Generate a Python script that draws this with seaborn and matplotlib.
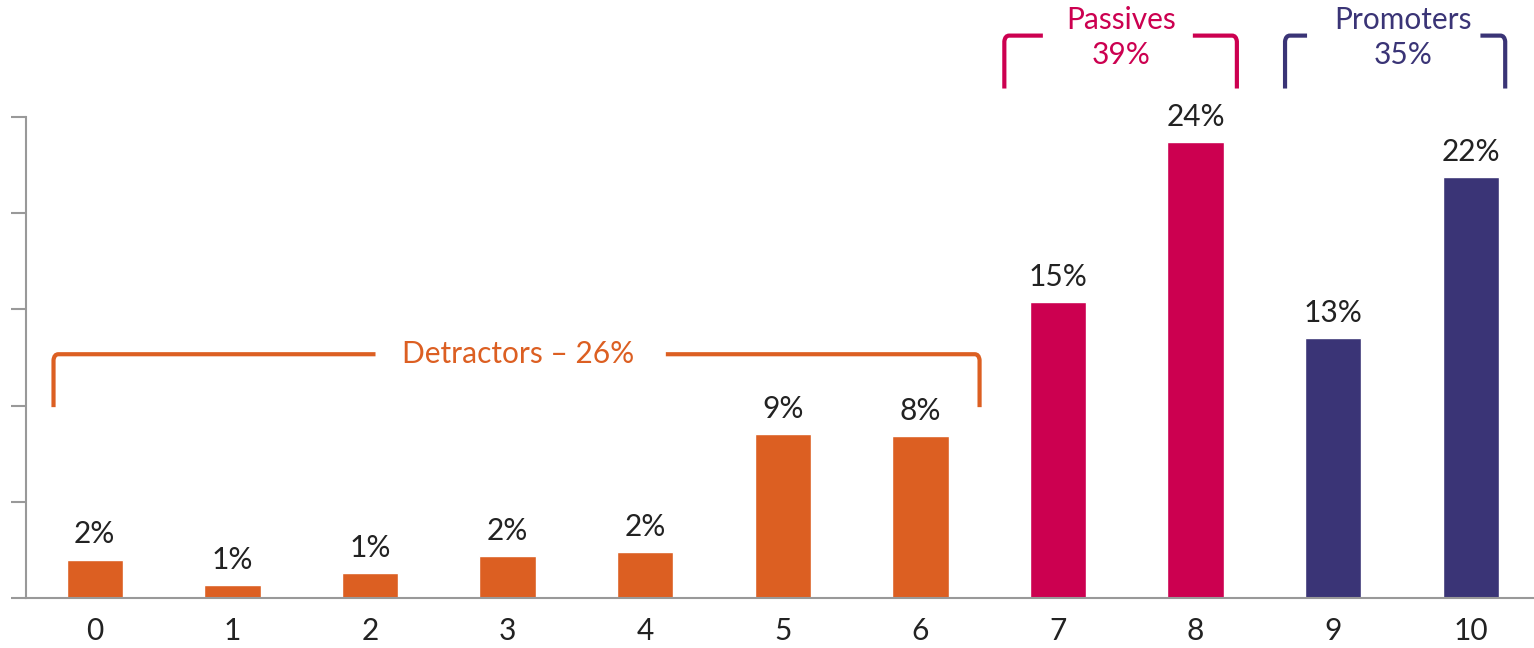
import matplotlib
matplotlib.use('Agg')
import matplotlib.pyplot as plt
import numpy as np
import pandas as pd
import seaborn as sns
from matplotlib.path import Path
from matplotlib.patches import PathPatch

# NPS score distribution
scores = ['0', '1', '2', '3', '4', '5', '6', '7', '8', '9', '10']
share = [2.0, 0.65, 1.3, 2.2, 2.4, 8.5, 8.4, 15.4, 23.7, 13.5, 21.9]
share_labels = ['2%', '1%', '1%', '2%', '2%', '9%', '8%', '15%', '24%', '13%', '22%']
group = ['Detractors'] * 7 + ['Passives'] * 2 + ['Promoters'] * 2

ORANGE = '#DC5F22'
MAGENTA = '#CC0050'
NAVY = '#3A3476'
palette = {'Detractors': ORANGE, 'Passives': MAGENTA, 'Promoters': NAVY}

df = pd.DataFrame({'score': scores, 'share': share, 'group': group})

sns.set_style('white')
plt.rcParams['font.family'] = ['Lato', 'DejaVu Sans']
FS = 21.5

fig = plt.figure(figsize=(15.34, 6.48), dpi=100)
ax = fig.add_axes([26 / 1534, 1 - 598 / 648, 1513.6 / 1534, 481 / 648])

sns.barplot(data=df, x='score', y='share', hue='group', palette=palette,
            dodge=False, width=0.41, legend=False, ax=ax, order=scores,
            saturation=1)

ax.set_xlim(-0.5, 10.5)
ax.set_ylim(0, 25)
ax.set_xlabel('')
ax.set_ylabel('')
ax.set_yticks([0, 5, 10, 15, 20, 25])
ax.set_yticklabels([])
ax.set_xticks(range(len(scores)))
ax.set_xticklabels(scores, fontsize=FS, color='#222222')
ax.set_xticks(np.arange(-0.5, 10.5, 1), minor=True)
ax.tick_params(axis='x', which='major', length=0, pad=14)
ax.tick_params(axis='x', which='minor', length=6, width=1.5, color='#999999', direction='out')
ax.tick_params(axis='y', length=11, width=1.5, color='#999999', direction='out', left=True)
for side in ['top', 'right']:
    ax.spines[side].set_visible(False)
for side in ['left', 'bottom']:
    ax.spines[side].set_color('#999999')
    ax.spines[side].set_linewidth(1.5)

for i, (v, lab) in enumerate(zip(share, share_labels)):
    ax.annotate(lab, (i, v), xytext=(0, 8), textcoords='offset points',
                ha='center', va='bottom', fontsize=FS, color='#222222')


def bracket(x0, x1, ybot, ytop, gap0, gap1, color):
    rx, ry = 0.035, 0.3
    verts = [(x0, ybot), (x0, ytop - ry), (x0 + 0.005, ytop), (x0 + rx, ytop), (gap0, ytop),
             (gap1, ytop), (x1 - rx, ytop), (x1 - 0.005, ytop), (x1, ytop - ry), (x1, ybot)]
    codes = [Path.MOVETO, Path.LINETO, Path.CURVE3, Path.CURVE3, Path.LINETO,
             Path.MOVETO, Path.LINETO, Path.CURVE3, Path.CURVE3, Path.LINETO]
    ax.add_patch(PathPatch(Path(verts, codes), fill=False, edgecolor=color,
                           linewidth=3, capstyle='butt', clip_on=False))


bracket(-0.30, 6.43, 9.92, 12.67, 2.04, 4.15, ORANGE)
ax.text(3.08, 12.67, 'Detractors \u2013 26%', ha='center', va='center',
        fontsize=FS, color=ORANGE)

bracket(6.61, 8.3, 26.48, 29.23, 6.89, 7.98, MAGENTA)
ax.text(7.46, 30.05, 'Passives', ha='center', va='center', fontsize=FS,
        color=MAGENTA, clip_on=False)
ax.text(7.46, 28.2, '39%', ha='center', va='center', fontsize=FS,
        color=MAGENTA, clip_on=False)

bracket(8.65, 10.25, 26.48, 29.23, 8.81, 10.07, NAVY)
ax.text(9.51, 30.05, 'Promoters', ha='center', va='center', fontsize=FS,
        color=NAVY, clip_on=False)
ax.text(9.51, 28.2, '35%', ha='center', va='center', fontsize=FS,
        color=NAVY, clip_on=False)

fig.savefig('out.png', dpi=100)
